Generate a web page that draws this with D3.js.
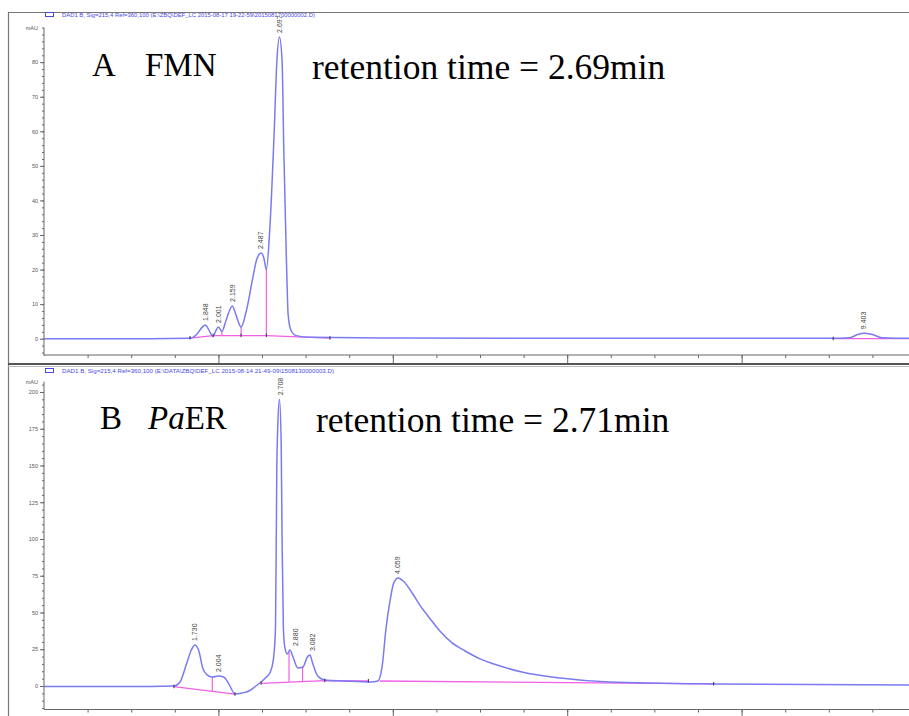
<!DOCTYPE html>
<html>
<head>
<meta charset="utf-8">
<script src="https://cdn.jsdelivr.net/npm/d3@7/dist/d3.min.js"></script>
<style>
body { margin: 0; background: #fff; }
svg { display: block; }
</style>
</head>
<body>
<svg id="chart"></svg>
<script>
// ---- run A : FMN standard ----
const timeA = [0, 1.22, 1.67, 1.75, 1.81, 1.85, 1.88, 1.94, 1.97, 2.00, 2.04, 2.09, 2.16, 2.20, 2.26,
	2.32, 2.39, 2.44, 2.49, 2.52, 2.55, 2.59, 2.64, 2.67, 2.70, 2.73, 2.75, 2.78, 2.80, 2.83, 2.89,
	3.05, 4.08, 9.01, 9.24, 9.33, 9.40, 9.50, 9.61, 9.92, 10];
const mauA = [0, 0, 0.1, 1.2, 3.2, 4.0, 3.0, 0.7, 2.3, 3.4, 2.1, 5.5, 9.5, 7.0, 3.4,
	8, 17, 23, 24.8, 23.5, 20, 32, 60, 80, 87.3, 80.6, 54.6, 22.8, 6.9, 2.6, 0.9,
	0.4, 0.2, 0.1, 0.3, 1.2, 1.6, 1.2, 0.3, 0.1, 0.1];
const peakTimesA = [1.848, 2.001, 2.159, 2.487, 2.697, 9.403];
const peakLabelsA = ['1.848', '2.001', '2.159', '2.487', '2.697', '9.403'];
const peakHeightsA = [4.0, 3.4, 9.5, 24.8, 87.3, 1.6];
const baselinesA = [
	[[1.674, 0.2], [1.94, 0.9], [2.26, 0.9], [2.55, 0.9], [3.28, 0.15]],
	[[9.05, 0], [10, 0]]
];
const dropsA = [[2.04, 2.1, 0.9], [2.26, 3.4, 0.9], [2.55, 20, 0.9]];
const eventsA = [[1.674, 0.2], [1.94, 0.9], [2.26, 0.9], [2.55, 0.9], [3.28, 0.15], [9.05, 0]];
const yTicksA = [0, 10, 20, 30, 40, 50, 60, 70, 80];

// ---- run B : PaER ----
const timeB = [0, 1.22, 1.49, 1.56, 1.63, 1.69, 1.73, 1.78, 1.82, 1.87, 1.93, 2.00, 2.06, 2.12, 2.19,
	2.27, 2.35, 2.43, 2.49, 2.55, 2.59, 2.63, 2.655, 2.67, 2.68, 2.70, 2.72, 2.73, 2.745, 2.76, 2.79, 2.82, 2.86,
	2.91, 2.97, 3.02, 3.05, 3.08, 3.14, 3.22, 3.45, 3.74, 3.83, 3.88, 3.92, 3.97, 4.01, 4.06, 4.12,
	4.20, 4.31, 4.43, 4.54, 4.68, 4.83, 5.00, 5.23, 5.48, 5.92, 6.48, 7.67, 9.92, 10];
const mauB = [-0.3, -0.3, 0, 2.7, 14.3, 24.5, 27.9, 23, 12.2, 7.5, 6.1, 6.8, 6.1, 1.4, -5.4,
	-4.8, -3.4, 0, 2.7, 6.1, 8.8, 17.7, 40, 150, 175, 195, 165, 100, 40, 27, 21.8, 24.5, 19,
	12.2, 12.9, 19.7, 21, 15.6, 6.8, 4.1, 3.4, 2.7, 3.4, 14.3, 38, 58.5, 70, 73.5, 71.4,
	65.3, 55, 45.6, 37.4, 29.3, 23.8, 18.4, 13.6, 9.5, 5.4, 2.7, 1.4, 0.7, 0.7];
const peakTimesB = [1.730, 2.004, 2.708, 2.880, 3.082, 4.059];
const peakLabelsB = ['1.730', '2.004', '2.708', '2.880', '3.082', '4.059'];
const peakHeightsB = [27.9, 6.8, 195, 24.5, 21, 73.5];
const baselinesB = [
	[[1.49, -0.5], [2.19, -5.6]],
	[[2.49, 1.8], [3.22, 3.6], [3.72, 3.4]],
	[[3.85, 3.4], [7.68, 1.4]]
];
const dropsB = [[1.93, 6.1, -3.7], [2.81, 23, 2.9], [2.965, 12.9, 3.4]];
const eventsB = [[1.49, -0.5], [2.19, -5.6], [2.49, 1.8], [3.22, 3.6], [3.72, 3.4], [7.68, 1.4]];
const yTicksB = [0, 25, 50, 75, 100, 125, 150, 175, 200];

const W = 909, H = 716;
const curveColor = '#7a7af2';
const baseColor = '#f060e4';
const axisColor = '#666';

const svg = d3.select('#chart')
	.attr('width', W)
	.attr('height', H)
	.style('font-family', '"Liberation Sans", Arial, sans-serif');

svg.append('rect').attr('width', W).attr('height', H).attr('fill', '#fff');

// frame of the screenshot
svg.append('path')
	.attr('d', 'M8.5,' + H + 'V12.5H' + W)
	.attr('fill', 'none').attr('stroke', '#777').attr('stroke-width', 1.2);
svg.append('line')
	.attr('x1', 8).attr('x2', W).attr('y1', 364).attr('y2', 364)
	.attr('stroke', '#555').attr('stroke-width', 2.2);
svg.append('line')
	.attr('x1', 8).attr('x2', W).attr('y1', 366.5).attr('y2', 366.5)
	.attr('stroke', '#bbb').attr('stroke-width', 1);

const x = d3.scaleLinear().domain([0, 10]).range([44, 916]);

function drawPanel(p) {
	const y = d3.scaleLinear().domain(p.yDomain).range(p.yRange);
	const g = svg.append('g');

	// header line of the data file
	g.append('rect')
		.attr('x', 45.5).attr('y', p.headY - 4.5).attr('width', 8).attr('height', 4)
		.attr('fill', 'none').attr('stroke', '#4a4ae6').attr('stroke-width', 1);
	g.append('text')
		.attr('x', 62).attr('y', p.headY)
		.attr('font-size', 5.2).attr('fill', '#4a4ae6')
		.attr('textLength', p.headLen).attr('lengthAdjust', 'spacingAndGlyphs')
		.text(p.head);

	// y axis
	const yMinor = d3.range(p.yDomain[0] - p.yDomain[0] % p.minorStep, p.yDomain[1] + 0.01, p.minorStep);
	g.append('g')
		.attr('transform', 'translate(44,0)')
		.call(d3.axisLeft(y).tickValues(yMinor).tickSize(2).tickFormat(''))
		.call(a => a.select('.domain').remove());
	g.append('g')
		.attr('transform', 'translate(44,0)')
		.call(d3.axisLeft(y).tickValues(p.yTicks).tickSize(4).tickPadding(2))
		.call(a => a.select('.domain').remove())
		.call(a => a.selectAll('text').attr('font-size', 5.5).attr('fill', '#555').attr('font-family', null));
	g.append('line')
		.attr('x1', 44).attr('x2', 44).attr('y1', p.yRange[1]).attr('y2', p.yRange[0])
		.attr('stroke', axisColor);
	g.append('text')
		.attr('x', 38).attr('y', p.yRange[1] + 2).attr('text-anchor', 'end')
		.attr('font-size', 5.5).attr('fill', '#555').text('mAU');
	g.selectAll('.tick line').attr('stroke', axisColor);

	// x axis (labels are cut off in the screenshot)
	const xa = p.xAxisY;
	g.append('g')
		.attr('transform', 'translate(0,' + xa + ')')
		.call(d3.axisBottom(x).tickValues(d3.range(0.5, 10, 0.5)).tickSize(3).tickFormat(''))
		.call(a => a.select('.domain').remove());
	g.append('g')
		.attr('transform', 'translate(0,' + xa + ')')
		.call(d3.axisBottom(x).tickValues([2, 4, 6, 8]).tickSize(8).tickFormat(''))
		.call(a => a.select('.domain').remove());
	g.append('line')
		.attr('x1', 44).attr('x2', W).attr('y1', xa).attr('y2', xa)
		.attr('stroke', axisColor);
	g.selectAll('.tick line').attr('stroke', axisColor);

	// integration baselines and drop lines
	const line = d3.line().x(d => x(d[0])).y(d => y(d[1]));
	g.selectAll('.base').data(p.baselines).enter()
		.append('path').attr('class', 'base')
		.attr('d', line)
		.attr('fill', 'none').attr('stroke', baseColor).attr('stroke-width', 1.3);
	g.selectAll('.drop').data(p.drops).enter()
		.append('line').attr('class', 'drop')
		.attr('x1', d => x(d[0])).attr('x2', d => x(d[0]))
		.attr('y1', d => y(d[1])).attr('y2', d => y(d[2]))
		.attr('stroke', baseColor).attr('stroke-width', 1.2);

	// signal
	const pts = p.time.map((t, i) => [t, p.mau[i]]);
	g.append('path')
		.datum(pts)
		.attr('d', d3.line().x(d => x(d[0])).y(d => y(d[1])).curve(d3.curveMonotoneX))
		.attr('fill', 'none').attr('stroke', curveColor).attr('stroke-width', 1.5);

	// integration event marks
	g.selectAll('.ev').data(p.events).enter()
		.append('line').attr('class', 'ev')
		.attr('x1', d => x(d[0])).attr('x2', d => x(d[0]))
		.attr('y1', d => y(d[1]) - 2).attr('y2', d => y(d[1]) + 1.5)
		.attr('stroke', '#333').attr('stroke-width', 1);

	// peak retention time labels
	g.selectAll('.pk').data(p.peakTimes).enter()
		.append('text').attr('class', 'pk')
		.attr('transform', (t, i) => 'translate(' + x(t) + ',' + (y(p.peakHeights[i]) - 4) + ') rotate(-90)')
		.attr('dy', '0.35em')
		.attr('font-size', 7).attr('fill', '#444')
		.text((t, i) => p.peakLabels[i]);

	// titles
	const tA = g.append('text')
		.attr('x', p.letterX).attr('y', p.titleY)
		.attr('font-family', '"Liberation Serif", "Times New Roman", serif')
		.attr('font-size', 33).attr('fill', '#000');
	tA.append('tspan').text(p.letter);
	p.name.forEach((s, i) => {
		const ts = tA.append('tspan').text(s[0]);
		if (i == 0) ts.attr('x', p.nameX);
		if (s[1]) ts.attr('font-style', 'italic');
	});
	g.append('text')
		.attr('x', p.rtX).attr('y', p.titleY + 3)
		.attr('font-family', '"Liberation Serif", "Times New Roman", serif')
		.attr('font-size', 35.5).attr('fill', '#000')
		.text(p.rt);
}

drawPanel({
	yDomain: [-5, 90], yRange: [356, 27.6], yTicks: yTicksA, minorStep: 2, xAxisY: 355,
	headY: 17, headLen: 253,
	head: 'DAD1 B, Sig=215,4 Ref=360,100 (E:\\ZBQ\\DEF_LC 2015-08-17 19-22-59\\2015081700000002.D)',
	time: timeA, mau: mauA, baselines: baselinesA, drops: dropsA, events: eventsA,
	peakTimes: peakTimesA, peakLabels: peakLabelsA, peakHeights: peakHeightsA,
	letter: 'A', letterX: 92, name: [['FMN', false]], nameX: 145, titleY: 76,
	rtX: 312, rt: 'retention time = 2.69min'
});

drawPanel({
	yDomain: [-16, 207], yRange: [709.5, 381.7], yTicks: yTicksB, minorStep: 5, xAxisY: 709.5,
	headY: 373, headLen: 272,
	head: 'DAD1 B, Sig=215,4 Ref=360,100 (E:\\DATA\\ZBQ\\DEF_LC 2015-08-14 21-49-09\\1508130000003.D)',
	time: timeB, mau: mauB, baselines: baselinesB, drops: dropsB, events: eventsB,
	peakTimes: peakTimesB, peakLabels: peakLabelsB, peakHeights: peakHeightsB,
	letter: 'B', letterX: 100, name: [['Pa', true], ['ER', false]], nameX: 148, titleY: 429,
	rtX: 316, rt: 'retention time = 2.71min'
});
</script>
</body>
</html>
